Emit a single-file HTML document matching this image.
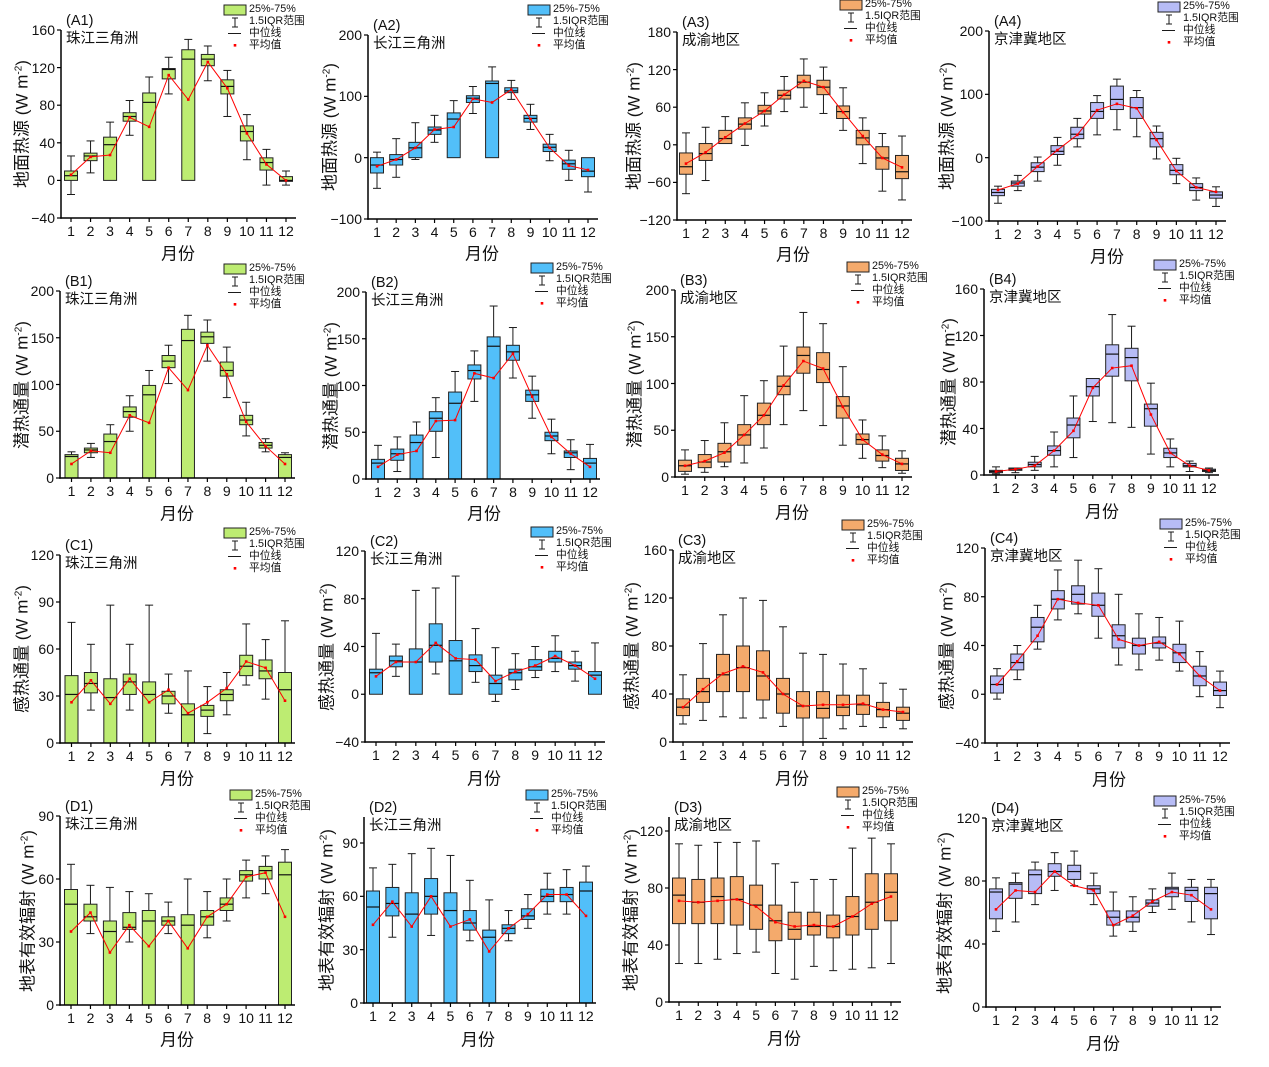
<!DOCTYPE html>
<html><head><meta charset="utf-8">
<style>
body{margin:0;background:#fff;width:1269px;height:1067px;overflow:hidden;position:relative;font-family:"Liberation Sans","Noto Sans CJK SC",sans-serif;color:#111}
svg{position:absolute;left:0;top:0}
.yt{position:absolute;width:40px;display:flex;flex-direction:column;justify-content:space-between;text-align:right;font-size:14px;line-height:16px}
.yt span{display:block;height:16px}
.xt{position:absolute;display:flex;font-size:14px;line-height:16px}
.xt span{flex:1;text-align:center}
.tt{position:absolute;font-size:14.5px;line-height:18px;white-space:nowrap}
.yl{position:absolute;font-size:17px;white-space:nowrap;transform:translate(-50%,-50%) rotate(-90deg)}
.xl{position:absolute;font-size:17px;white-space:nowrap;transform:translate(-50%,-50%)}
.lg{position:absolute;font-size:10.8px;line-height:12px;white-space:nowrap}
sup{font-size:10px;vertical-align:6px;line-height:0}
</style></head>
<body>
<svg id="s" width="1269" height="1067" viewBox="0 0 1269 1067"></svg>

<!-- Row A -->
<div class="yt" style="left:15px;top:22px;height:204px"><span>160</span><span>120</span><span>80</span><span>40</span><span>0</span><span>−40</span></div>
<div class="xt" style="left:61.2px;top:223px;width:234.5px"><span>1</span><span>2</span><span>3</span><span>4</span><span>5</span><span>6</span><span>7</span><span>8</span><span>9</span><span>10</span><span>11</span><span>12</span></div>
<div class="tt" style="left:66px;top:12px">(A1)<br>珠江三角洲</div>
<div class="yl" style="left:20px;top:124px">地面热源 (W m<sup>-2</sup>)</div>
<div class="xl" style="left:178px;top:252px">月份</div>
<div class="lg" style="left:249px;top:3px">25%-75%<br>1.5IQR范围<br>中位线<br>平均值</div>

<div class="yt" style="left:322px;top:27px;height:200px"><span>200</span><span>100</span><span>0</span><span>−100</span></div>
<div class="xt" style="left:367.4px;top:224px;width:230.2px"><span>1</span><span>2</span><span>3</span><span>4</span><span>5</span><span>6</span><span>7</span><span>8</span><span>9</span><span>10</span><span>11</span><span>12</span></div>
<div class="tt" style="left:373px;top:17px">(A2)<br>长江三角洲</div>
<div class="yl" style="left:328px;top:127px">地面热源 (W m<sup>-2</sup>)</div>
<div class="xl" style="left:482px;top:252px">月份</div>
<div class="lg" style="left:553px;top:3px">25%-75%<br>1.5IQR范围<br>中位线<br>平均值</div>

<div class="yt" style="left:631px;top:24px;height:204px"><span>180</span><span>120</span><span>60</span><span>0</span><span>−60</span><span>−120</span></div>
<div class="xt" style="left:676.2px;top:225px;width:235.7px"><span>1</span><span>2</span><span>3</span><span>4</span><span>5</span><span>6</span><span>7</span><span>8</span><span>9</span><span>10</span><span>11</span><span>12</span></div>
<div class="tt" style="left:682px;top:14px">(A3)<br>成渝地区</div>
<div class="yl" style="left:632px;top:126px">地面热源 (W m<sup>-2</sup>)</div>
<div class="xl" style="left:793px;top:253px">月份</div>
<div class="lg" style="left:865px;top:-2px">25%-75%<br>1.5IQR范围<br>中位线<br>平均值</div>

<div class="yt" style="left:943px;top:23px;height:206px"><span>200</span><span>100</span><span>0</span><span>−100</span></div>
<div class="xt" style="left:988.1px;top:226px;width:237.8px"><span>1</span><span>2</span><span>3</span><span>4</span><span>5</span><span>6</span><span>7</span><span>8</span><span>9</span><span>10</span><span>11</span><span>12</span></div>
<div class="tt" style="left:994px;top:13px">(A4)<br>京津冀地区</div>
<div class="yl" style="left:945px;top:126px">地面热源 (W m<sup>-2</sup>)</div>
<div class="xl" style="left:1107px;top:255px">月份</div>
<div class="lg" style="left:1183px;top:0px">25%-75%<br>1.5IQR范围<br>中位线<br>平均值</div>

<!-- Row B -->
<div class="yt" style="left:14px;top:283px;height:203px"><span>200</span><span>150</span><span>100</span><span>50</span><span>0</span></div>
<div class="xt" style="left:61.8px;top:483px;width:232.9px"><span>1</span><span>2</span><span>3</span><span>4</span><span>5</span><span>6</span><span>7</span><span>8</span><span>9</span><span>10</span><span>11</span><span>12</span></div>
<div class="tt" style="left:65px;top:273px">(B1)<br>珠江三角洲</div>
<div class="yl" style="left:20px;top:384.5px">潜热通量 (W m<sup>-2</sup>)</div>
<div class="xl" style="left:177px;top:512px">月份</div>
<div class="lg" style="left:249px;top:262px">25%-75%<br>1.5IQR范围<br>中位线<br>平均值</div>

<div class="yt" style="left:320px;top:284px;height:203px"><span>200</span><span>150</span><span>100</span><span>50</span><span>0</span></div>
<div class="xt" style="left:368.4px;top:484px;width:231.3px"><span>1</span><span>2</span><span>3</span><span>4</span><span>5</span><span>6</span><span>7</span><span>8</span><span>9</span><span>10</span><span>11</span><span>12</span></div>
<div class="tt" style="left:371px;top:274px">(B2)<br>长江三角洲</div>
<div class="yl" style="left:329px;top:385.5px">潜热通量 (W m<sup>-2</sup>)</div>
<div class="xl" style="left:484px;top:512px">月份</div>
<div class="lg" style="left:556px;top:261px">25%-75%<br>1.5IQR范围<br>中位线<br>平均值</div>

<div class="yt" style="left:629px;top:282px;height:203px"><span>200</span><span>150</span><span>100</span><span>50</span><span>0</span></div>
<div class="xt" style="left:675.1px;top:482px;width:236.8px"><span>1</span><span>2</span><span>3</span><span>4</span><span>5</span><span>6</span><span>7</span><span>8</span><span>9</span><span>10</span><span>11</span><span>12</span></div>
<div class="tt" style="left:680px;top:272px">(B3)<br>成渝地区</div>
<div class="yl" style="left:633px;top:383.5px">潜热通量 (W m<sup>-2</sup>)</div>
<div class="xl" style="left:792px;top:511px">月份</div>
<div class="lg" style="left:872px;top:260px">25%-75%<br>1.5IQR范围<br>中位线<br>平均值</div>

<div class="yt" style="left:938px;top:281px;height:202px"><span>160</span><span>120</span><span>80</span><span>40</span><span>0</span></div>
<div class="xt" style="left:986.3px;top:480px;width:232.4px"><span>1</span><span>2</span><span>3</span><span>4</span><span>5</span><span>6</span><span>7</span><span>8</span><span>9</span><span>10</span><span>11</span><span>12</span></div>
<div class="tt" style="left:989px;top:271px">(B4)<br>京津冀地区</div>
<div class="yl" style="left:947px;top:382px">潜热通量 (W m<sup>-2</sup>)</div>
<div class="xl" style="left:1102px;top:510px">月份</div>
<div class="lg" style="left:1179px;top:258px">25%-75%<br>1.5IQR范围<br>中位线<br>平均值</div>

<!-- Row C -->
<div class="yt" style="left:14px;top:547px;height:204px"><span>120</span><span>90</span><span>60</span><span>30</span><span>0</span></div>
<div class="xt" style="left:61.8px;top:748px;width:232.9px"><span>1</span><span>2</span><span>3</span><span>4</span><span>5</span><span>6</span><span>7</span><span>8</span><span>9</span><span>10</span><span>11</span><span>12</span></div>
<div class="tt" style="left:65px;top:537px">(C1)<br>珠江三角洲</div>
<div class="yl" style="left:20px;top:649px">感热通量 (W m<sup>-2</sup>)</div>
<div class="xl" style="left:177px;top:777px">月份</div>
<div class="lg" style="left:249px;top:526px">25%-75%<br>1.5IQR范围<br>中位线<br>平均值</div>

<div class="yt" style="left:319px;top:543px;height:207px"><span>120</span><span>80</span><span>40</span><span>0</span><span>−40</span></div>
<div class="xt" style="left:366px;top:747px;width:238.9px"><span>1</span><span>2</span><span>3</span><span>4</span><span>5</span><span>6</span><span>7</span><span>8</span><span>9</span><span>10</span><span>11</span><span>12</span></div>
<div class="tt" style="left:370px;top:533px">(C2)<br>长江三角洲</div>
<div class="yl" style="left:325px;top:646.5px">感热通量 (W m<sup>-2</sup>)</div>
<div class="xl" style="left:484px;top:777px">月份</div>
<div class="lg" style="left:556px;top:525px">25%-75%<br>1.5IQR范围<br>中位线<br>平均值</div>

<div class="yt" style="left:627px;top:542px;height:208px"><span>160</span><span>120</span><span>80</span><span>40</span><span>0</span></div>
<div class="xt" style="left:673px;top:747px;width:240px"><span>1</span><span>2</span><span>3</span><span>4</span><span>5</span><span>6</span><span>7</span><span>8</span><span>9</span><span>10</span><span>11</span><span>12</span></div>
<div class="tt" style="left:678px;top:532px">(C3)<br>成渝地区</div>
<div class="yl" style="left:630px;top:646px">感热通量 (W m<sup>-2</sup>)</div>
<div class="xl" style="left:792px;top:777px">月份</div>
<div class="lg" style="left:867px;top:518px">25%-75%<br>1.5IQR范围<br>中位线<br>平均值</div>

<div class="yt" style="left:939px;top:540px;height:211px"><span>120</span><span>80</span><span>40</span><span>0</span><span>−40</span></div>
<div class="xt" style="left:986.9px;top:748px;width:243.2px"><span>1</span><span>2</span><span>3</span><span>4</span><span>5</span><span>6</span><span>7</span><span>8</span><span>9</span><span>10</span><span>11</span><span>12</span></div>
<div class="tt" style="left:990px;top:530px">(C4)<br>京津冀地区</div>
<div class="yl" style="left:945px;top:645.5px">感热通量 (W m<sup>-2</sup>)</div>
<div class="xl" style="left:1109px;top:778px">月份</div>
<div class="lg" style="left:1185px;top:517px">25%-75%<br>1.5IQR范围<br>中位线<br>平均值</div>

<!-- Row D -->
<div class="yt" style="left:14px;top:808px;height:205px"><span>90</span><span>60</span><span>30</span><span>0</span></div>
<div class="xt" style="left:61.3px;top:1010px;width:233.4px"><span>1</span><span>2</span><span>3</span><span>4</span><span>5</span><span>6</span><span>7</span><span>8</span><span>9</span><span>10</span><span>11</span><span>12</span></div>
<div class="tt" style="left:65px;top:798px">(D1)<br>珠江三角洲</div>
<div class="yl" style="left:26px;top:910.5px">地表有效辐射 (W m<sup>-2</sup>)</div>
<div class="xl" style="left:177px;top:1038px">月份</div>
<div class="lg" style="left:255px;top:788px">25%-75%<br>1.5IQR范围<br>中位线<br>平均值</div>

<div class="yt" style="left:318px;top:835px;height:176px"><span>90</span><span>60</span><span>30</span><span>0</span></div>
<div class="xt" style="left:363.3px;top:1008px;width:232.3px"><span>1</span><span>2</span><span>3</span><span>4</span><span>5</span><span>6</span><span>7</span><span>8</span><span>9</span><span>10</span><span>11</span><span>12</span></div>
<div class="tt" style="left:369px;top:799px">(D2)<br>长江三角洲</div>
<div class="yl" style="left:325px;top:910px">地表有效辐射 (W m<sup>-2</sup>)</div>
<div class="xl" style="left:478px;top:1038px">月份</div>
<div class="lg" style="left:551px;top:788px">25%-75%<br>1.5IQR范围<br>中位线<br>平均值</div>

<div class="yt" style="left:623px;top:823px;height:187px"><span>120</span><span>80</span><span>40</span><span>0</span></div>
<div class="xt" style="left:669.4px;top:1007px;width:231.2px"><span>1</span><span>2</span><span>3</span><span>4</span><span>5</span><span>6</span><span>7</span><span>8</span><span>9</span><span>10</span><span>11</span><span>12</span></div>
<div class="tt" style="left:674px;top:799px">(D3)<br>成渝地区</div>
<div class="yl" style="left:629px;top:909.5px">地表有效辐射 (W m<sup>-2</sup>)</div>
<div class="xl" style="left:784px;top:1037px">月份</div>
<div class="lg" style="left:862px;top:785px">25%-75%<br>1.5IQR范围<br>中位线<br>平均值</div>

<div class="yt" style="left:940px;top:810px;height:205px"><span>120</span><span>80</span><span>40</span><span>0</span></div>
<div class="xt" style="left:986.2px;top:1012px;width:234.6px"><span>1</span><span>2</span><span>3</span><span>4</span><span>5</span><span>6</span><span>7</span><span>8</span><span>9</span><span>10</span><span>11</span><span>12</span></div>
<div class="tt" style="left:991px;top:800px">(D4)<br>京津冀地区</div>
<div class="yl" style="left:943px;top:912.5px">地表有效辐射 (W m<sup>-2</sup>)</div>
<div class="xl" style="left:1103px;top:1042px">月份</div>
<div class="lg" style="left:1179px;top:794px">25%-75%<br>1.5IQR范围<br>中位线<br>平均值</div>

<script>
var G='#bdec72',B='#52bff9',O='#f4aa6c',V='#b7bcf6';
var P=[
{ax:61,at:30,yt:30,vt:160,yb:218,vb:-40,x1:71,x12:286,c:G,t:[160,120,80,40,0,-40],sx:224,sy:5,d:[
[-15,0,5,10,26,6],[8,21,26,29,42,25],[null,0,38,46,62,27],[48,63,68,72,85,67],[null,0,83,93,110,57],[92,108,118,119,131,112],[null,0,129,139,150,86],[106,122,129,134,143,126],[68,92,100,107,117,98],[22,42,52,58,70,50],[-5,11,19,24,33,17],[-5,-1,0,4,10,0]]},
{ax:368,at:35,yt:35,vt:200,yb:219,vb:-100,x1:377,x12:588,c:B,t:[200,100,0,-100],sx:528,sy:5,d:[
[-50,-25,-12,0,9,-14],[-32,-12,-3,5,31,-3],[-3,0,16,25,57,16],[25,38,45,50,69,46],[null,0,63,73,93,50],[72,90,97,101,116,96],[null,0,121,125,148,90],[95,106,109,114,126,111],[46,58,64,69,87,63],[-5,10,17,22,38,16],[-37,-19,-10,-4,12,-13],[-56,-31,-22,0,null,-20]]},
{ax:677,at:32,yt:32,vt:180,yb:220,vb:-120,x1:686,x12:902,c:O,t:[180,120,60,0,-60,-120],sx:840,sy:0,d:[
[-78,-47,-35,-13,19,-30],[-57,-25,-14,2,28,-12],[null,2,10,23,45,12],[-1,25,33,43,67,34],[30,49,54,63,83,54],[53,73,79,87,109,80],[60,91,100,111,137,102],[50,80,92,103,124,92],[23,42,53,62,91,52],[-30,0,11,23,43,14],[-74,-39,-21,-3,18,-21],[-88,-54,-43,-17,14,-36]]},
{ax:989,at:31,yt:31,vt:200,yb:221,vb:-100,x1:998,x12:1216,c:V,t:[200,100,0,-100],sx:1158,sy:2,d:[
[-72,-60,-55,-50,-45,-51],[-52,-45,-40,-37,-28,-41],[-37,-22,-15,-8,1,-14],[-12,5,10,19,32,12],[17,30,37,48,62,36],[36,62,73,87,98,75],[44,76,92,113,124,85],[33,62,79,95,106,78],[-2,17,30,40,50,28],[-41,-27,-20,-11,-1,-21],[-67,-52,-47,-41,-32,-47],[-77,-64,-59,-54,-46,-54]]},

{ax:60,at:291,yt:291,vt:200,yb:478,vb:0,x1:71.5,x12:285,c:G,t:[200,150,100,50,0],sx:224,sy:264,d:[
[null,0,23,25,28,15],[22,27,30,32,37,29],[null,0,39,47,57,27],[50,65,71,76,88,67],[null,0,89,99,115,59],[101,118,125,131,142,118],[null,0,147,159,174,94],[125,144,151,156,169,142],[86,109,115,124,140,111],[45,57,62,67,81,60],[28,32,35,38,42,34],[null,0,22,25,27,15]]},
{ax:366,at:292,yt:292,vt:200,yb:479,vb:0,x1:378,x12:590,c:B,t:[200,150,100,50,0],sx:531,sy:263,d:[
[null,0,17,21,36,13],[8,20,27,32,45,26],[null,0,39,47,61,30],[23,51,65,72,87,62],[null,0,81,93,115,63],[83,107,116,122,137,113],[null,0,142,152,185,108],[108,127,136,143,162,134],[65,83,90,95,110,88],[27,41,46,50,64,45],[10,23,28,30,42,27],[null,0,17,22,37,13]]},
{ax:675,at:290,yt:290,vt:200,yb:477,vb:0,x1:685,x12:902,c:O,t:[200,150,100,50,0],sx:847,sy:262,d:[
[3,6,12,18,29,12],[5,10,16,24,39,17],[11,16,27,36,58,26],[15,34,45,56,87,45],[31,56,66,79,103,66],[56,88,97,108,140,98],[71,111,130,139,176,124],[55,101,115,133,164,116],[34,63,76,86,118,75],[20,35,40,46,61,40],[10,17,23,29,44,24],[4,7,14,20,28,14]]},
{ax:984,at:289,yt:289,vt:160,yb:475,vb:0,x1:996,x12:1209,c:V,t:[160,120,80,40,0],sx:1154,sy:260,d:[
[1,2,3,4,7,3],[2,4,5,6,6,5],[4,7,9,11,16,8],[7,17,21,25,37,21],[15,32,43,49,68,38],[46,68,76,83,null,75],[45,85,104,112,138,92],[41,81,101,109,128,94],[18,42,57,61,79,52],[7,15,19,23,31,19],[3,7,8,10,12,8],[2,3,4,5,6,4]]},

{ax:60,at:555,yt:555,vt:120,yb:743,vb:0,x1:71.5,x12:285,c:G,t:[120,90,60,30,0],sx:224,sy:528,d:[
[null,0,31,43,77,26],[21,32,38,45,63,40],[null,0,29,41,88,25],[21,31,39,44,63,41],[null,0,31,39,88,26],[19,25,30,33,44,34],[null,0,18,25,46,19],[6,17,21,24,36,26],[18,27,31,34,45,35],[37,43,49,56,76,52],[28,41,46,53,66,48],[null,0,34,45,78,27]]},
{ax:365,at:551,yt:551,vt:120,yb:742,vb:-40,x1:376,x12:595,c:B,t:[120,80,40,0,-40],sx:531,sy:527,d:[
[null,0,18,21,51,15],[15,23,28,32,42,27],[null,0,27,38,87,27],[17,27,41,59,89,43],[null,0,28,45,99,30],[10,19,24,33,55,29],[-6,0,9,16,39,11],[4,12,18,21,34,19],[14,20,23,29,40,24],[19,27,30,36,49,32],[11,21,24,27,36,24],[null,0,16,19,43,13]]},
{ax:673,at:550,yt:550,vt:160,yb:742,vb:0,x1:683,x12:903,c:O,t:[160,120,80,40,0],sx:842,sy:520,d:[
[15,22,29,36,56,29],[18,33,42,53,82,44],[21,42,56,73,106,57],[20,42,62,80,120,63],[20,35,55,76,118,58],[13,24,40,53,96,40],[0,20,30,42,74,30],[3,20,28,42,73,31],[11,22,29,39,65,31],[13,23,31,39,61,32],[12,21,27,33,49,27],[11,18,24,29,44,25]]},
{ax:985,at:548,yt:548,vt:120,yb:743,vb:-40,x1:997,x12:1220,c:V,t:[120,80,40,0,-40],sx:1160,sy:519,d:[
[-4,1,8,15,21,8],[12,20,26,33,40,27],[37,43,55,63,73,48],[61,70,78,85,102,78],[66,74,82,89,110,75],[46,64,73,83,103,73],[24,38,48,57,82,45],[20,33,40,46,66,40],[28,38,42,47,63,43],[19,26,34,41,60,33],[-2,7,15,23,35,15],[-11,-1,3,10,19,3]]},

{ax:60,at:816,yt:816,vt:90,yb:1005,vb:0,x1:71,x12:285,c:G,t:[90,60,30,0],sx:230,sy:790,d:[
[null,0,48,55,67,35],[34,40,42,48,57,44],[null,0,35,40,56,25],[30,36,37,44,54,38],[null,0,40,45,53,28],[34,38,40,42,49,40],[null,0,38,43,60,27],[32,38,42,45,54,42],[40,45,48,51,60,48],[51,59,62,64,69,61],[53,60,64,66,71,63],[null,0,62,68,74,42]]},
{ax:364,at:817,yt:843,vt:90,yb:1003,vb:0,x1:373,x12:586,c:B,t:[90,60,30,0],sx:526,sy:790,d:[
[null,0,54,63,76,44],[37,49,56,65,78,57],[null,0,50,62,84,43],[38,50,60,70,87,60],[null,0,52,62,83,43],[35,41,45,52,69,47],[null,0,37,41,58,29],[35,39,42,44,52,42],[42,47,49,53,61,50],[50,57,60,64,73,61],[50,57,61,65,75,61],[null,0,63,68,77,49]]},
{ax:669,at:817,yt:831,vt:120,yb:1002,vb:0,x1:679,x12:891,c:O,t:[120,80,40,0],sx:837,sy:787,d:[
[27,55,75,87,111,71],[27,55,70,86,110,70],[30,55,74,87,112,71],[34,54,72,88,112,72],[35,51,68,82,113,67],[20,43,57,68,97,56],[16,44,51,63,84,53],[25,47,53,63,86,54],[22,45,53,61,86,53],[23,47,60,74,108,60],[24,51,70,90,115,69],[27,57,77,90,111,74]]},
{ax:986,at:818,yt:818,vt:120,yb:1007,vb:0,x1:996,x12:1211,c:V,t:[120,80,40,0],sx:1154,sy:796,d:[
[48,56,73,75,82,62],[54,69,78,79,85,74],[65,72,84,87,92,73],[74,83,86,91,98,86],[77,81,86,90,99,77],[65,72,75,77,85,74],[45,52,57,61,73,52],[48,54,57,61,70,58],[60,64,66,68,75,67],[62,70,75,76,85,73],[54,67,74,76,81,71],[46,56,72,76,81,62]]}
];
var NS='http://www.w3.org/2000/svg';
var svg=document.getElementById('s');
function el(t,a){var e=document.createElementNS(NS,t);for(var k in a)e.setAttribute(k,a[k]);svg.appendChild(e);return e;}
function ln(x1,y1,x2,y2,c,w){el('line',{x1:x1,y1:y1,x2:x2,y2:y2,stroke:c||'#1a1a1a','stroke-width':w||1});}
P.forEach(function(p){
  var Y=function(v){return p.yt+(p.vt-v)*(p.yb-p.yt)/(p.vt-p.vb);};
  var s=(p.x12-p.x1)/11;
  var X=function(i){return p.x1+i*s;};
  p.d.forEach(function(r,i){
    var lo=r[0],q1=r[1],md=r[2],q3=r[3],hi=r[4];var x=X(i);
    if(hi!=null){ln(x,Y(q3),x,Y(hi));ln(x-4,Y(hi),x+4,Y(hi));}
    if(lo!=null){ln(x,Y(q1),x,Y(lo));ln(x-4,Y(lo),x+4,Y(lo));}
    el('rect',{x:x-6.5,y:Y(q3),width:13,height:Math.max(1,Y(q1)-Y(q3)),fill:p.c,stroke:'#222','stroke-width':1});
    ln(x-6.5,Y(md),x+6.5,Y(md),'#111',1.2);
  });
  el('polyline',{points:p.d.map(function(r,i){return X(i)+','+Y(r[5]);}).join(' '),fill:'none',stroke:'#ff0000','stroke-width':1});
  p.d.forEach(function(r,i){el('rect',{x:X(i)-1.3,y:Y(r[5])-1.3,width:2.6,height:2.6,fill:'#ff0000'});});
  ln(p.ax,p.at,p.ax,p.yb+0.75,'#000',1.5);
  ln(p.ax-0.75,p.yb,p.x12+10,p.yb,'#000',1.5);
  p.t.forEach(function(v){ln(p.ax-4,Y(v),p.ax,Y(v),'#000',1.2);});
  for(var i=0;i<12;i++)ln(X(i),p.yb,X(i),p.yb+4,'#000',1.2);
  var sx=p.sx,sy=p.sy,cx=sx+11;
  el('rect',{x:sx,y:sy,width:22,height:10,fill:p.c,stroke:'#222','stroke-width':1});
  ln(cx,sy+13,cx,sy+22);ln(cx-3,sy+13,cx+3,sy+13);ln(cx-3,sy+22,cx+3,sy+22);
  ln(cx-7,sy+28.5,cx+6,sy+28.5);
  el('rect',{x:cx-1.3,y:sy+39,width:2.6,height:2.6,fill:'#ff0000'});
});
</script>
</body></html>
